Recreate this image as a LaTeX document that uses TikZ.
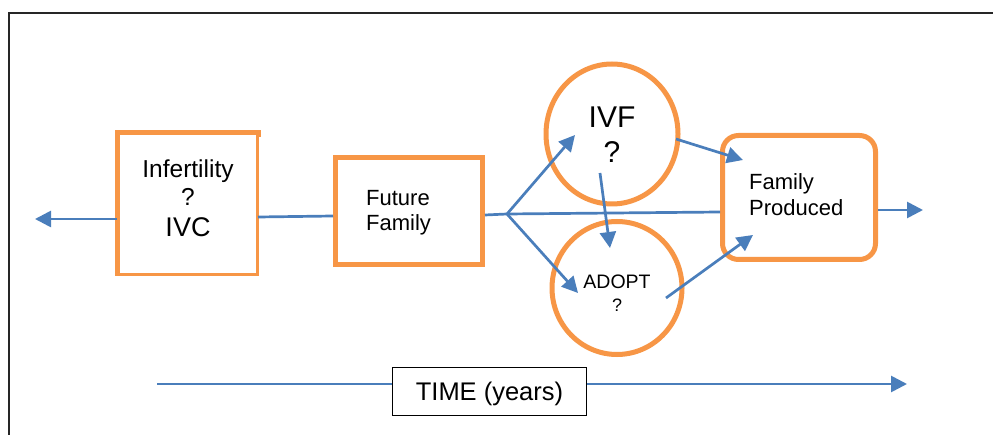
\documentclass[tikz,border=0pt]{standalone}
\usepackage{fontspec}
\setmainfont{Liberation Sans}
\usetikzlibrary{arrows.meta,shapes.geometric}
\definecolor{orng}{HTML}{F79646}
\definecolor{blu}{HTML}{4A7EBB}
\tikzset{
  obox/.style={draw=orng, line width=5pt, fill=white, inner sep=0pt},
  oell/.style={ellipse, draw=orng, line width=5pt, fill=white, inner sep=0pt},
  conn/.style={draw=blu, line width=2.7pt},
  arr/.style={conn, -{Triangle[length=16pt,width=16pt]}},
  txt/.style={inner sep=0pt, align=center},
}
\begin{document}
\begin{tikzpicture}[x=1pt,y=-1pt]
\useasboundingbox (0,0) rectangle (993,435);
% frame
\coordinate (f1) at (9,435);
\coordinate (f2) at (9,13);
\coordinate (f3) at (993,13);
\draw[line width=2pt, black!85] (f1) -- (f2) -- (f3);

% nodes
\node[draw=orng, line width=2.5pt, fill=white, minimum width=139pt, minimum height=141pt, inner sep=0pt]
  (inf) at (188,204) {};
\draw[orng, line width=5pt] (inf.south west) -- (inf.north west) -- (inf.north east) -- ++(0,5);
\node[txt, font=\fontsize{24.5}{28}\selectfont] (inft) at (188,198.5) {Infertility\\?\\[3pt]\fontsize{27}{30}\selectfont IVC};

\node[obox, minimum width=147pt, minimum height=107pt] (ff) at (409,211) {};
\node[txt, align=left, anchor=west, font=\fontsize{22}{25.5}\selectfont] (fft) at (366,212.5) {Future\\Family};

\node[oell, minimum width=132pt, minimum height=140pt] (ivf) at (612,134) {};
\node[txt, font=\fontsize{30}{35}\selectfont] (ivft) at (612,135) {IVF\\?};
\node[oell, minimum width=130pt, minimum height=133pt] (adopt) at (617,288) {};
\node[txt, font=\fontsize{19.5}{23}\selectfont] (adoptt) at (617,293) {ADOPT\\\fontsize{18}{23}\selectfont ?};

\node[obox, rounded corners=16pt, minimum width=153pt, minimum height=124pt] (fp) at (799,197.5) {};
\node[txt, align=left, anchor=west, font=\fontsize{22}{26}\selectfont] (fpt) at (749,194.3) {Family\\Produced};

% coordinates
\coordinate (leftend) at (35,219);
\coordinate (infL) at (117,219);
\coordinate (infR) at (258,217);
\coordinate (ffL) at (333,216);
\coordinate (ffR) at (485,215);
\coordinate (j) at (507,214);
\coordinate (fpL) at (720,212);
\coordinate (ivfIn) at (575,135);
\coordinate (adIn) at (578,293);
\coordinate (ivfOut1) at (600,173);
\coordinate (adIn2) at (610,248);
\coordinate (ivfOut2) at (676,139);
\coordinate (fpIn1) at (743,160);
\coordinate (adOut) at (666,298);
\coordinate (fpIn2) at (753,235);
\coordinate (fpR) at (878,210);
\coordinate (rightend) at (923,210);
\coordinate (t0) at (157,384);
\coordinate (t1) at (907,384);

% connectors
\draw[arr] (infL) -- (leftend);
\draw[conn] (infR) -- (ffL);
\draw[conn] (ffR) -- (j) -- (fpL);
\draw[arr] (j) -- (ivfIn);
\draw[arr] (j) -- (adIn);
\draw[arr] (ivfOut1) -- (adIn2);
\draw[arr] (ivfOut2) -- (fpIn1);
\draw[arr] (adOut) -- (fpIn2);
\draw[arr] (fpR) -- (rightend);
\draw[arr] (t0) -- (t1);

\node[draw=black, line width=1.5pt, fill=white, minimum width=194pt, minimum height=48pt, inner sep=0pt,
  font=\fontsize{25.5}{28}\selectfont, text depth=0pt]
  (time) at (489.5,391.5) {TIME (years)};
\end{tikzpicture}
\end{document}
